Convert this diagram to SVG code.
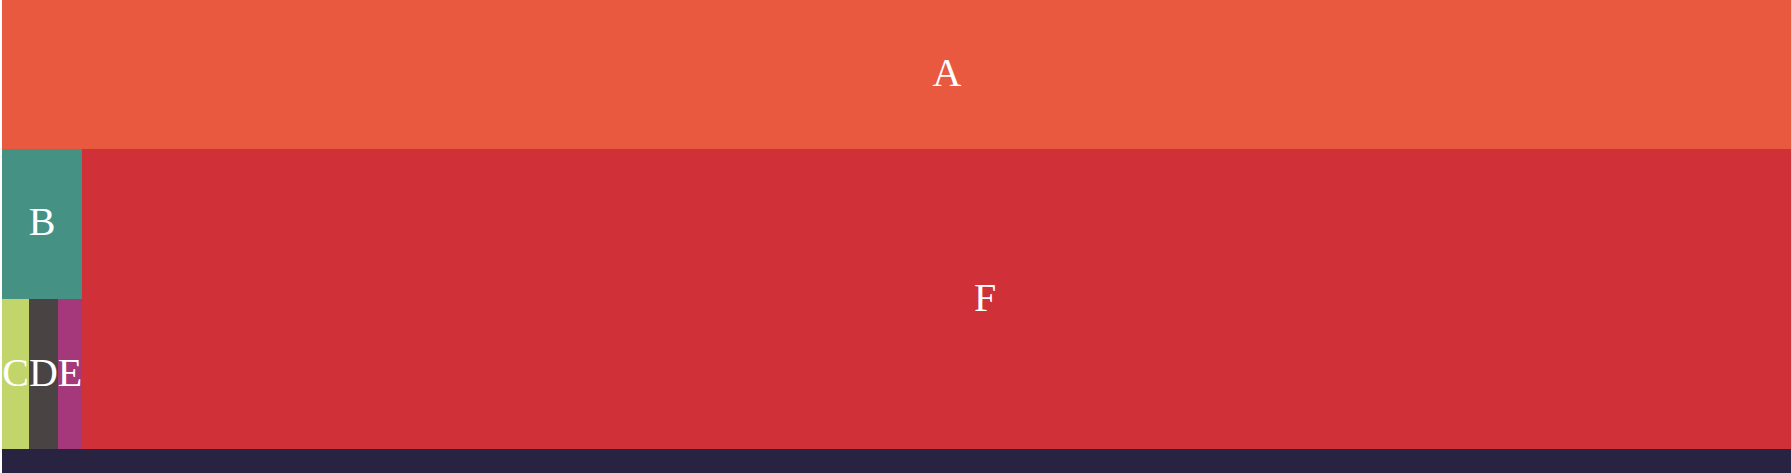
<svg xmlns="http://www.w3.org/2000/svg" width="1791" height="473" viewBox="0 0 1791 473">
<style>
text{font-family:"Liberation Serif","Times New Roman",serif;font-size:40px;fill:#ffffff;text-anchor:middle}
</style>
<rect x="0" y="0" width="1791" height="473" fill="#ffffff"/>
<g id="nodeA"><rect x="2" y="0" width="1890" height="149" fill="#E8593F"/><text x="947" y="86">A</text></g>
<g id="nodeF"><rect x="82" y="149" width="1810" height="300" fill="#D03138"/><text x="985" y="311">F</text></g>
<g id="nodeB"><rect x="2" y="149" width="80" height="150" fill="#459285"/><text x="42" y="235">B</text></g>
<g id="nodeC"><rect x="2" y="299" width="27" height="150" fill="#C2D56B"/></g>
<g id="nodeD"><rect x="29" y="299" width="29" height="150" fill="#4A4343"/></g>
<g id="nodeE"><rect x="58" y="299" width="24" height="150" fill="#A5387A"/></g>
<g id="labelsCDE"><text x="15.5" y="386">C</text><text x="43.5" y="386">D</text><text x="70" y="386">E</text></g>
<g id="nodeG"><rect x="2" y="449" width="1890" height="24" fill="#282340"/></g>
<g id="connectors"></g>
</svg>
